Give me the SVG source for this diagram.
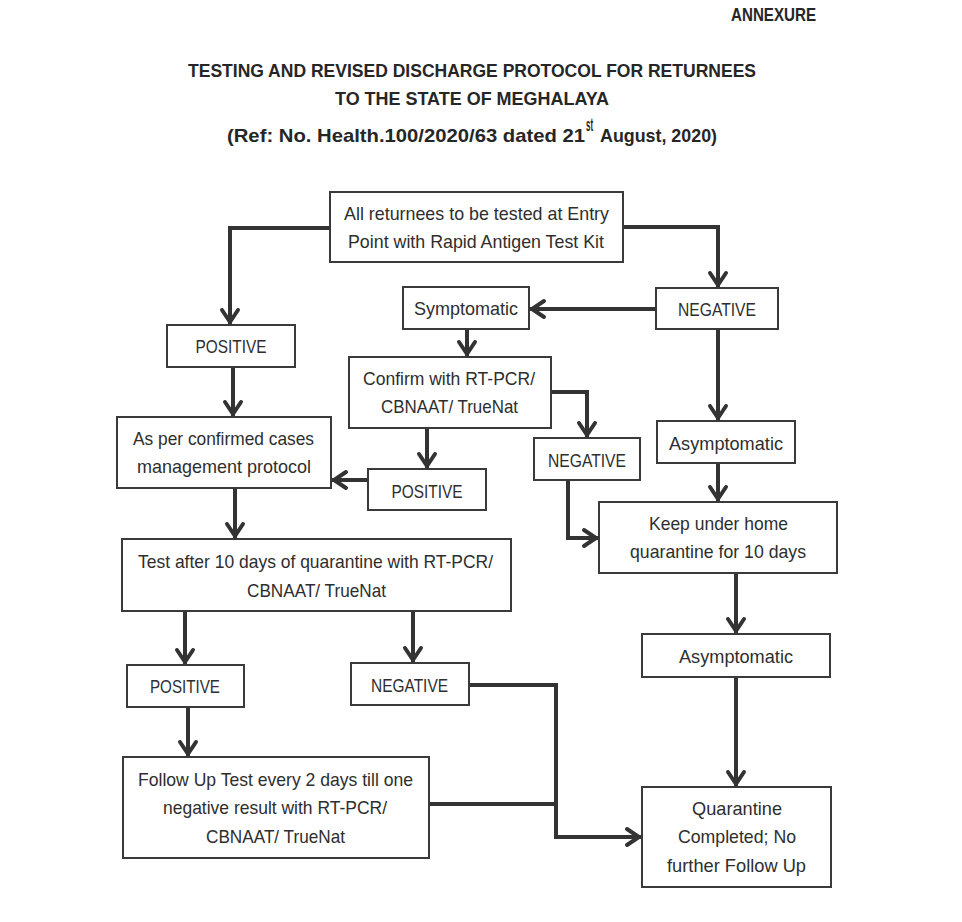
<svg xmlns="http://www.w3.org/2000/svg" width="962" height="922" viewBox="0 0 962 922">
<style>
  .bg { fill: #ffffff; }
  .box { fill: #ffffff; stroke: #3a3a3a; stroke-width: 2; }
  .t { font-family: "Liberation Sans", Arial, sans-serif; font-size: 19px; fill: #2e2e2e; text-anchor: middle; }
  .h { font-family: "Liberation Sans", Arial, sans-serif; font-weight: bold; font-size: 19px; fill: #262626; }
  .c { fill: none; stroke: #333333; stroke-width: 4; stroke-linejoin: miter; }
</style>
<defs>
  <marker id="arr" markerUnits="userSpaceOnUse" markerWidth="30" markerHeight="30" refX="0" refY="0" orient="auto" overflow="visible">
    <path d="M-15,-8 L-3,0 L-15,8" fill="none" stroke="#333333" stroke-width="4" stroke-linecap="round" stroke-linejoin="miter"/>
  </marker>
</defs>
<rect class="bg" x="0" y="0" width="962" height="922"/>

<g id="title">
  <text class="h" x="731" y="21" font-size="15" textLength="85" lengthAdjust="spacingAndGlyphs">ANNEXURE</text>
  <text class="h" x="188" y="77" textLength="568" lengthAdjust="spacingAndGlyphs">TESTING AND REVISED DISCHARGE PROTOCOL FOR RETURNEES</text>
  <text class="h" x="335" y="105" textLength="274" lengthAdjust="spacingAndGlyphs">TO THE STATE OF MEGHALAYA</text>
  <text class="h" x="227" y="142" textLength="358" lengthAdjust="spacingAndGlyphs">(Ref: No. Health.100/2020/63 dated 21</text>
  <text class="h" x="586" y="131" font-size="10" textLength="7" lengthAdjust="spacingAndGlyphs">st</text>
  <text class="h" x="600" y="142" textLength="117" lengthAdjust="spacingAndGlyphs">August, 2020)</text>
</g>

<g id="connectors">
  <polyline class="c" points="330,228 230,228 230,325" marker-end="url(#arr)"/>
  <polyline class="c" points="623,227 718,227 718,288" marker-end="url(#arr)"/>
  <line class="c" x1="656" y1="309" x2="529" y2="309" marker-end="url(#arr)"/>
  <line class="c" x1="467" y1="329" x2="467" y2="357" marker-end="url(#arr)"/>
  <line class="c" x1="233" y1="367" x2="233" y2="417" marker-end="url(#arr)"/>
  <line class="c" x1="427" y1="428" x2="427" y2="469" marker-end="url(#arr)"/>
  <line class="c" x1="368" y1="480" x2="331" y2="480" marker-end="url(#arr)"/>
  <polyline class="c" points="551,392 587,392 587,438" marker-end="url(#arr)"/>
  <line class="c" x1="718" y1="329" x2="718" y2="421" marker-end="url(#arr)"/>
  <line class="c" x1="718" y1="463" x2="718" y2="502" marker-end="url(#arr)"/>
  <polyline class="c" points="568,480 568,538 599,538" marker-end="url(#arr)"/>
  <line class="c" x1="235" y1="488" x2="235" y2="539" marker-end="url(#arr)"/>
  <line class="c" x1="185" y1="611" x2="185" y2="665" marker-end="url(#arr)"/>
  <line class="c" x1="413" y1="611" x2="413" y2="663" marker-end="url(#arr)"/>
  <line class="c" x1="188" y1="707" x2="188" y2="757" marker-end="url(#arr)"/>
  <line class="c" x1="736" y1="573" x2="736" y2="634" marker-end="url(#arr)"/>
  <line class="c" x1="736" y1="677" x2="736" y2="787" marker-end="url(#arr)"/>
  <polyline class="c" points="469,685 556,685 556,837 642,837" marker-end="url(#arr)"/>
  <line class="c" x1="429" y1="804" x2="556" y2="804"/>
</g>

<g id="n_entry">
  <rect class="box" x="330" y="192" width="293" height="70"/>
  <text class="t" x="476.5" y="220" textLength="265" lengthAdjust="spacingAndGlyphs">All returnees to be tested at Entry</text>
  <text class="t" x="476" y="248" textLength="256" lengthAdjust="spacingAndGlyphs">Point with Rapid Antigen Test Kit</text>
</g>
<g id="n_positive1">
  <rect class="box" x="167" y="325" width="128" height="42"/>
  <text class="t" x="231" y="353" textLength="71" lengthAdjust="spacingAndGlyphs">POSITIVE</text>
</g>
<g id="n_symptomatic">
  <rect class="box" x="403" y="287" width="126" height="42"/>
  <text class="t" x="466" y="315" textLength="104" lengthAdjust="spacingAndGlyphs">Symptomatic</text>
</g>
<g id="n_negative1">
  <rect class="box" x="656" y="288" width="122" height="41"/>
  <text class="t" x="717" y="316" textLength="78" lengthAdjust="spacingAndGlyphs">NEGATIVE</text>
</g>
<g id="n_confirm">
  <rect class="box" x="349" y="357" width="202" height="71"/>
  <text class="t" x="449" y="385" textLength="172" lengthAdjust="spacingAndGlyphs">Confirm with RT-PCR/</text>
  <text class="t" x="449.5" y="413" textLength="137" lengthAdjust="spacingAndGlyphs">CBNAAT/ TrueNat</text>
</g>
<g id="n_aspercases">
  <rect class="box" x="117" y="417" width="214" height="71"/>
  <text class="t" x="223.5" y="445" textLength="181" lengthAdjust="spacingAndGlyphs">As per confirmed cases</text>
  <text class="t" x="224" y="473" textLength="174" lengthAdjust="spacingAndGlyphs">management protocol</text>
</g>
<g id="n_positive2">
  <rect class="box" x="368" y="469" width="118" height="41"/>
  <text class="t" x="427" y="498" textLength="71" lengthAdjust="spacingAndGlyphs">POSITIVE</text>
</g>
<g id="n_negative2">
  <rect class="box" x="534" y="438" width="106" height="42"/>
  <text class="t" x="587" y="467" textLength="78" lengthAdjust="spacingAndGlyphs">NEGATIVE</text>
</g>
<g id="n_asymptomatic1">
  <rect class="box" x="657" y="421" width="138" height="42"/>
  <text class="t" x="726" y="450" textLength="114" lengthAdjust="spacingAndGlyphs">Asymptomatic</text>
</g>
<g id="n_keephome">
  <rect class="box" x="599" y="502" width="238" height="71"/>
  <text class="t" x="718.5" y="530" textLength="139" lengthAdjust="spacingAndGlyphs">Keep under home</text>
  <text class="t" x="718" y="558" textLength="176" lengthAdjust="spacingAndGlyphs">quarantine for 10 days</text>
</g>
<g id="n_test10">
  <rect class="box" x="122" y="539" width="389" height="72"/>
  <text class="t" x="315.5" y="568" textLength="355" lengthAdjust="spacingAndGlyphs">Test after 10 days of quarantine with RT-PCR/</text>
  <text class="t" x="316.5" y="597" textLength="139" lengthAdjust="spacingAndGlyphs">CBNAAT/ TrueNat</text>
</g>
<g id="n_positive3">
  <rect class="box" x="127" y="665" width="117" height="42"/>
  <text class="t" x="185" y="693" textLength="70" lengthAdjust="spacingAndGlyphs">POSITIVE</text>
</g>
<g id="n_negative3">
  <rect class="box" x="351" y="663" width="118" height="42"/>
  <text class="t" x="409.5" y="692" textLength="77" lengthAdjust="spacingAndGlyphs">NEGATIVE</text>
</g>
<g id="n_asymptomatic2">
  <rect class="box" x="642" y="634" width="188" height="43"/>
  <text class="t" x="736" y="663" textLength="114" lengthAdjust="spacingAndGlyphs">Asymptomatic</text>
</g>
<g id="n_followup">
  <rect class="box" x="123" y="757" width="306" height="101"/>
  <text class="t" x="275.5" y="786" textLength="275" lengthAdjust="spacingAndGlyphs">Follow Up Test every 2 days till one</text>
  <text class="t" x="275" y="814" textLength="224" lengthAdjust="spacingAndGlyphs">negative result with RT-PCR/</text>
  <text class="t" x="275.5" y="843" textLength="139" lengthAdjust="spacingAndGlyphs">CBNAAT/ TrueNat</text>
</g>
<g id="n_completed">
  <rect class="box" x="642" y="787" width="189" height="100"/>
  <text class="t" x="737" y="815" textLength="90" lengthAdjust="spacingAndGlyphs">Quarantine</text>
  <text class="t" x="737" y="843" textLength="118" lengthAdjust="spacingAndGlyphs">Completed; No</text>
  <text class="t" x="736.5" y="872" textLength="139" lengthAdjust="spacingAndGlyphs">further Follow Up</text>
</g>
</svg>
